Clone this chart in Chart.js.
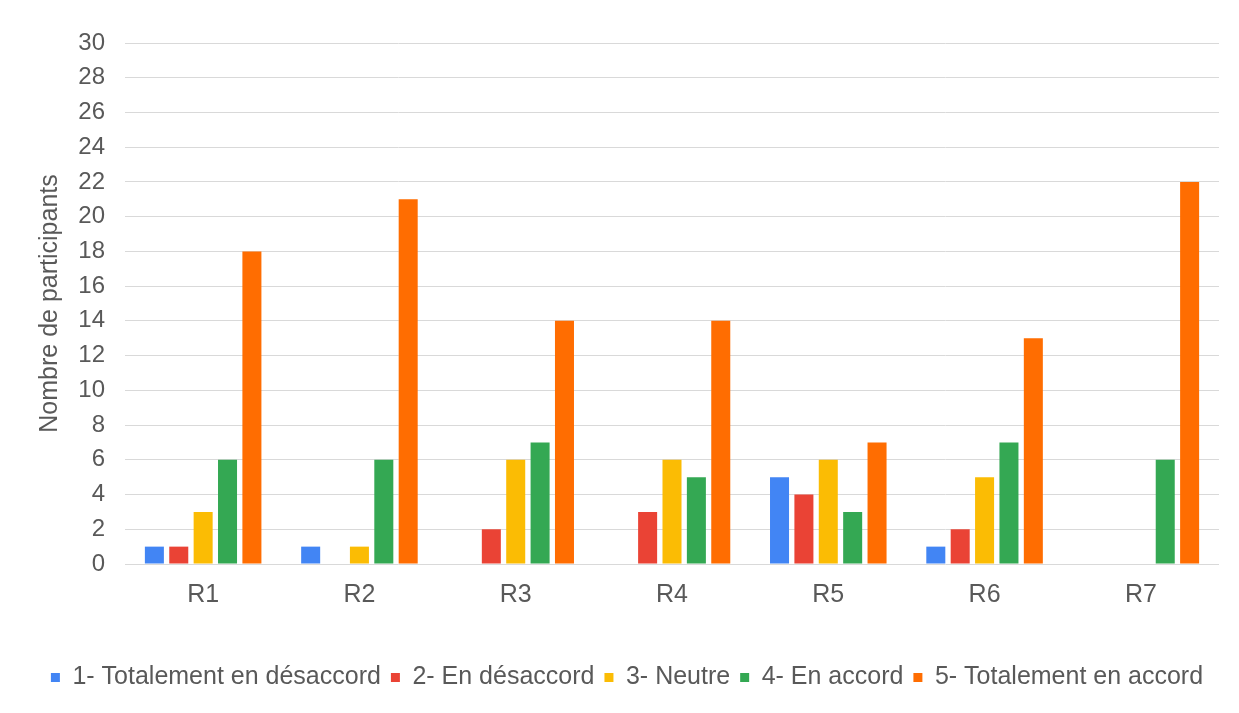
<!DOCTYPE html>
<html>
<head>
<meta charset="utf-8">
<script src="https://cdn.jsdelivr.net/npm/chart.js@4"></script>
<style>
  body { margin: 0; background: #fff; }
  #wrap { width: 1239px; height: 713px; }
</style>
</head>
<body>
<div id="wrap"><canvas id="chart"></canvas></div>
<script>
// Reponses par question (R1..R7)
const categories = ['R1', 'R2', 'R3', 'R4', 'R5', 'R6', 'R7'];
const seriesNames = ['1- Totalement en désaccord', '2- En désaccord', '3- Neutre', '4- En accord', '5- Totalement en accord'];
const totDesaccord = [1, 1, 0, 0, 5, 1, 0];
const desaccord = [1, 0, 2, 3, 4, 2, 0];
const neutre = [3, 1, 6, 6, 6, 5, 0];
const accord = [6, 6, 7, 5, 3, 7, 6];
const totAccord = [18, 21, 14, 14, 7, 13, 22];
const colors = ['#4285F4', '#EA4335', '#FBBC04', '#34A853', '#FF6D01'];

const values = [totDesaccord, desaccord, neutre, accord, totAccord];
const textColor = '#595959';
const font = 'Arial, "Liberation Sans", sans-serif';

new Chart(document.getElementById('chart'), {
    type: 'bar',
    data: {
        labels: categories,
        datasets: values.map((v, i) => ({
            label: seriesNames[i],
            data: v,
            backgroundColor: colors[i],
            categoryPercentage: 0.78,
            barPercentage: 0.78
        }))
    },
    options: {
        responsive: true,
        maintainAspectRatio: false,
        animation: false,
        layout: { padding: { left: 35, right: 20, top: 43, bottom: 13 } },
        plugins: {
            legend: {
                position: 'bottom',
                labels: {
                    color: textColor,
                    font: { family: font, size: 25 },
                    boxWidth: 9,
                    boxHeight: 9,
                    padding: 10
                }
            },
            tooltip: { enabled: false }
        },
        scales: {
            x: {
                grid: { display: false },
                border: { display: false },
                ticks: { color: textColor, font: { family: font, size: 25 }, padding: 8 },
                // space between the category labels and the legend
                afterFit(scale) { scale.height += 37; }
            },
            y: {
                min: 0,
                max: 30,
                ticks: { stepSize: 2, color: textColor, font: { family: font, size: 24 }, padding: 20 },
                grid: { color: '#d9d9d9', drawTicks: false },
                border: { display: false },
                title: {
                    display: true,
                    text: 'Nombre de participants',
                    color: textColor,
                    font: { family: font, size: 25 },
                    padding: { top: 0, bottom: 0 }
                },
                afterFit(scale) { scale.width = 90; }
            }
        }
    }
});
</script>
</body>
</html>
